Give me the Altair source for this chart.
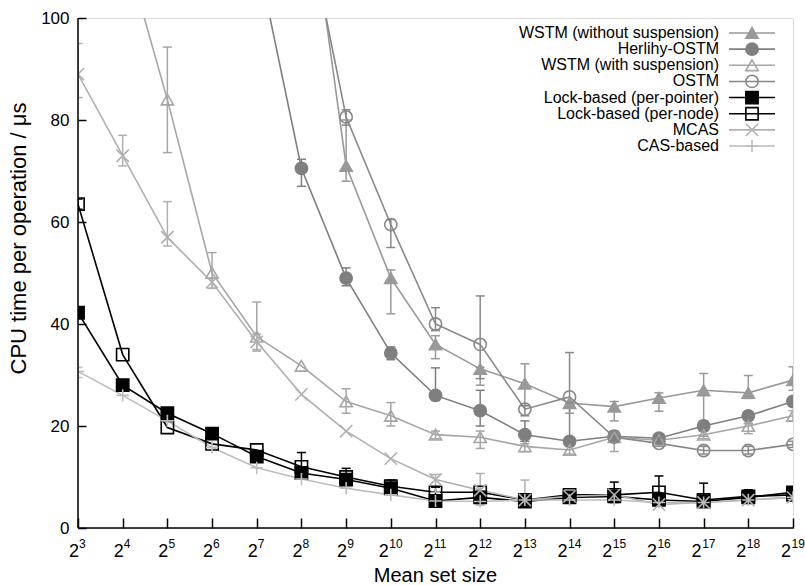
import altair as alt
import pandas as pd

N = None
exponents = list(range(3, 20))
series_names = ["WSTM (without suspension)", "Herlihy-OSTM", "WSTM (with suspension)", "OSTM",
                "Lock-based (per-pointer)", "Lock-based (per-node)", "MCAS", "CAS-based"]

wstm_wo = [N, N, N, N, N, 135, 71, 49, 36, 31.2, 28.3, 24.5, 23.8, 25.5, 27, 26.5, 29]
wstm_wo_lo = [N, N, N, N, N, N, 68, 42, 33.2, 28, 24, 22.5, 21, 22.9, 18, 25.4, 27]
wstm_wo_hi = [N, N, N, N, N, N, 80, 50.6, 37.7, 31.5, 32.2, 24.5, 24.8, 26.5, 30.3, 29.9, 31.6]

herlihy = [N, N, N, N, 112.5, 70.5, 49, 34.3, 26, 23, 18.3, 17, 18, 17.6, 20, 22, 24.8]
herlihy_lo = [N, N, N, N, N, 67, 47.5, 33, 25, 20, 17, N, 17, N, 19, 20.5, N]
herlihy_hi = [N, N, N, N, N, 72.3, 51, 35.5, 31.4, 27, 21, N, 19, N, 21, 22.5, N]

wstm_w = [N, 115, 84, 50, 37.5, 31.8, 24.8, 22, 18.3, 17.8, 16, 15.3, 17.8, 17.2, 18.3, 20, 22]
wstm_w_lo = [N, N, 73.6, 47, 34.7, N, 22.5, 20, 17.5, 15.6, 15, 14.5, 15, 16.5, 17.5, 18.5, 21]
wstm_w_hi = [N, N, 94.3, 54, 44.3, N, 27.3, 24.6, 19, 19, 16.5, 16, 19, 18, 19, 20.5, 23]

ostm = [N, N, N, N, N, 124, 80.6, 59.5, 40, 36, 23.3, 25.7, 17.8, 16.6, 15.2, 15.2, 16.4]
ostm_lo = [N, N, N, N, N, N, 79, 55, 38.7, 29.3, 22, 17, N, 16, 14.5, 14.5, 15.8]
ostm_hi = [N, N, N, N, N, N, 82, 60.5, 43.2, 45.5, 24, 34.4, N, 17.5, 16, 16, 17]

lock_ptr = [42.2, 28, 22.5, 18.5, 14, 10.8, 9.5, 7.8, 5.3, 6, 5.2, 6, 6.2, 5.5, 5.2, 6, 7]
lock_ptr_lo = [N, N, N, N, N, N, N, N, N, N, N, N, N, N, 4.5, N, N]
lock_ptr_hi = [N, N, N, N, N, N, N, N, N, N, N, N, N, N, 8.8, N, N]

lock_node = [63.5, 34, 19.7, 16.5, 15.3, 12, 10, 8.2, 7, 7, 5.5, 6.5, 6.5, 7, 5.5, 6.2, 6.5]
lock_node_lo = [62.5, N, N, N, N, 10, 9, 7, 6, N, N, N, 5, 5.5, N, 5.5, N]
lock_node_hi = [64.5, N, N, N, N, 14.8, 11.7, 9.4, 8, N, N, N, 9, 10.2, N, 7.5, N]

mcas = [89, 73, 57, 48.2, 36.5, 26.2, 19, 13.6, 9.5, 7.4, 5.5, 6.2, 6.5, 4.6, 5, 5.5, 6]
mcas_lo = [84.4, 71, 55.3, 47, 35, N, N, N, 7, 4.5, 5, N, N, N, N, N, N]
mcas_hi = [95, 77, 64, 49, 38, N, N, N, 10.5, 10.7, 9.4, N, N, N, N, N, N]

cas = [30.7, 26, 21, 15.8, 11.8, 9.6, 7.8, 6.5, 5.3, 5.2, 5.5, 5.5, 5.5, 5, 5, 5.5, 6]
cas_lo = [29.5, N, N, N, N, N, N, N, N, N, N, N, N, N, N, N, N]
cas_hi = [31.5, N, N, N, N, N, N, N, N, N, N, N, N, N, N, N, N]

values = [wstm_wo, herlihy, wstm_w, ostm, lock_ptr, lock_node, mcas, cas]
lows = [wstm_wo_lo, herlihy_lo, wstm_w_lo, ostm_lo, lock_ptr_lo, lock_node_lo, mcas_lo, cas_lo]
highs = [wstm_wo_hi, herlihy_hi, wstm_w_hi, ostm_hi, lock_ptr_hi, lock_node_hi, mcas_hi, cas_hi]

# styles
colors = ["#999999", "#7f7f7f", "#a6a6a6", "#888888", "#000000", "#000000", "#b0b0b0", "#bdbdbd"]
fills = ["#999999", "#7f7f7f", "transparent", "transparent", "#000000", "transparent",
         "transparent", "transparent"]
shapes = ["triangle-up", "circle", "triangle-up", "circle", "square", "square",
          "M-1,-1L1,1M-1,1L1,-1", "M-1,0L1,0M0,-1L0,1"]
widths = [1.6, 1.6, 1.6, 1.6, 2, 2, 1.6, 1.6]

rows = []
for name, vals, lo, hi in zip(series_names, values, lows, highs):
    for e, v, l, h in zip(exponents, vals, lo, hi):
        rows.append(dict(series=name, exp=e, value=v, lo=l, hi=h))
df = pd.DataFrame(rows)

FONT = "Liberation Sans"
W, H = 715, 510

col_scale = alt.Scale(domain=series_names, range=colors)
fill_scale = alt.Scale(domain=series_names, range=fills)
shape_scale = alt.Scale(domain=series_names, range=shapes)
width_scale = alt.Scale(domain=series_names, range=widths)

xscale = alt.Scale(domain=[3, 19], nice=False, zero=False)
xenc = alt.X("exp:Q", scale=xscale,
             axis=alt.Axis(values=exponents, labels=False, offset=-10, tickSize=10,
                           tickColor="black", tickWidth=1.5, domain=False, grid=False,
                           title="Mean set size", titleFontSize=20,
                           titleFont=FONT, titleFontWeight="normal", titleColor="black",
                           titleX=357, titleY=57, titleBaseline="middle", titleAlign="center"))
yscale = alt.Scale(domain=[0, 100], nice=False, zero=True)
yenc = alt.Y("value:Q", scale=yscale,
             axis=alt.Axis(values=[0, 20, 40, 60, 80, 100], offset=-8, tickSize=8,
                           tickColor="black", tickWidth=1.5, domain=False, grid=False,
                           labelFontSize=17, labelPadding=9, labelColor="black", labelFont=FONT,
                           title="CPU time per operation / \u03bcs", titleFontSize=22,
                           titleFont=FONT, titleFontWeight="normal", titleColor="black",
                           titleX=-68, titleY=220, titleBaseline="middle", titleAlign="center",
                           titleAngle=270))

base = alt.Chart(df)
valid = base.transform_filter("isValid(datum.value)")
errs = base.transform_filter("isValid(datum.lo)")

lines = valid.mark_line(clip=True).encode(
    x=xenc, y=yenc,
    color=alt.Color("series:N", scale=col_scale, legend=None),
    strokeWidth=alt.StrokeWidth("series:N", scale=width_scale, legend=None),
    order=alt.Order("exp:Q"),
)

ebar = errs.mark_rule(clip=True, strokeWidth=1.5).encode(
    x="exp:Q", y=alt.Y("lo:Q", scale=yscale), y2="hi:Q",
    color=alt.Color("series:N", scale=col_scale, legend=None),
)
cap_lo = errs.mark_tick(clip=True, orient="horizontal", size=9, thickness=1.5, opacity=1).encode(
    x="exp:Q", y=alt.Y("lo:Q", scale=yscale),
    color=alt.Color("series:N", scale=col_scale, legend=None),
)
cap_hi = errs.mark_tick(clip=True, orient="horizontal", size=9, thickness=1.5, opacity=1).encode(
    x="exp:Q", y=alt.Y("hi:Q", scale=yscale),
    color=alt.Color("series:N", scale=col_scale, legend=None),
)

points = valid.mark_point(clip=True, filled=True, opacity=1, size=150, strokeWidth=1.6).encode(
    x="exp:Q", y=alt.Y("value:Q", scale=yscale),
    stroke=alt.Stroke("series:N", scale=col_scale, legend=None),
    fill=alt.Fill("series:N", scale=fill_scale, legend=None),
    shape=alt.Shape("series:N", scale=shape_scale, legend=None),
)

axis_df = pd.DataFrame({"exp": [exponents[0]], "exp_end": [exponents[-1]]})
x_line = alt.Chart(axis_df).mark_rule(color="black", strokeWidth=1.5).encode(
    x="exp:Q", x2="exp_end:Q", y=alt.datum(0, scale=yscale)
)
y_line = alt.Chart(axis_df).mark_rule(color="black", strokeWidth=1.5).encode(
    x="exp:Q", y=alt.datum(0), y2=alt.datum(100)
)

# x tick labels: base "2" plus a superscript exponent, centred as a whole on each tick
lab_df = pd.DataFrame({"exp": exponents, "base": ["2"] * len(exponents),
                       "sup": [str(e) for e in exponents]})
one_digit = "datum.exp < 10"
two_digit = "datum.exp >= 10"
base1 = alt.Chart(lab_df).transform_filter(one_digit).mark_text(
    align="right", baseline="alphabetic", dx=1, dy=29, fontSize=18, font=FONT, color="black"
).encode(x="exp:Q", y=alt.datum(0), text="base:N")
base2 = alt.Chart(lab_df).transform_filter(two_digit).mark_text(
    align="right", baseline="alphabetic", dx=-2, dy=29, fontSize=18, font=FONT, color="black"
).encode(x="exp:Q", y=alt.datum(0), text="base:N")
sup1 = alt.Chart(lab_df).transform_filter(one_digit).mark_text(
    align="left", baseline="alphabetic", dx=1, dy=20, fontSize=12, font=FONT, color="black"
).encode(x="exp:Q", y=alt.datum(0), text="sup:N")
sup2 = alt.Chart(lab_df).transform_filter(two_digit).mark_text(
    align="left", baseline="alphabetic", dx=-1.5, dy=20, fontSize=12, font=FONT, color="black"
).encode(x="exp:Q", y=alt.datum(0), text="sup:N")

main = alt.layer(lines, ebar, cap_lo, cap_hi, points, x_line, y_line, base1, base2, sup1, sup2)

leg_df = pd.DataFrame({"series": series_names, "row": list(range(len(series_names)))})
leg_y = alt.Y("row:Q", scale=alt.Scale(domain=[0, 7], range=[15, 128]), axis=None)
leg_line = alt.Chart(leg_df).mark_rule().encode(
    y=leg_y, x=alt.value(651), x2=alt.value(697),
    color=alt.Color("series:N", scale=col_scale, legend=None),
    strokeWidth=alt.StrokeWidth("series:N", scale=width_scale, legend=None),
)
leg_pt = alt.Chart(leg_df).mark_point(filled=True, opacity=1, size=150, strokeWidth=1.6).encode(
    y=leg_y, x=alt.value(674),
    stroke=alt.Stroke("series:N", scale=col_scale, legend=None),
    fill=alt.Fill("series:N", scale=fill_scale, legend=None),
    shape=alt.Shape("series:N", scale=shape_scale, legend=None),
)
leg_txt = alt.Chart(leg_df).mark_text(align="right", baseline="middle", fontSize=16,
                                      font=FONT, color="black").encode(
    y=leg_y, x=alt.value(641), text="series:N"
)
legend = alt.layer(leg_line, leg_pt, leg_txt)

chart = alt.layer(main, legend).resolve_scale(y="independent").properties(
    width=W, height=H, autosize=alt.AutoSizeParams(type="none"),
    padding={"left": 78, "top": 18, "right": 12, "bottom": 57},
    background="white",
).configure_view(stroke=None).configure(font=FONT)

chart.save("out.html", embed_options={"renderer": "svg", "actions": False})
